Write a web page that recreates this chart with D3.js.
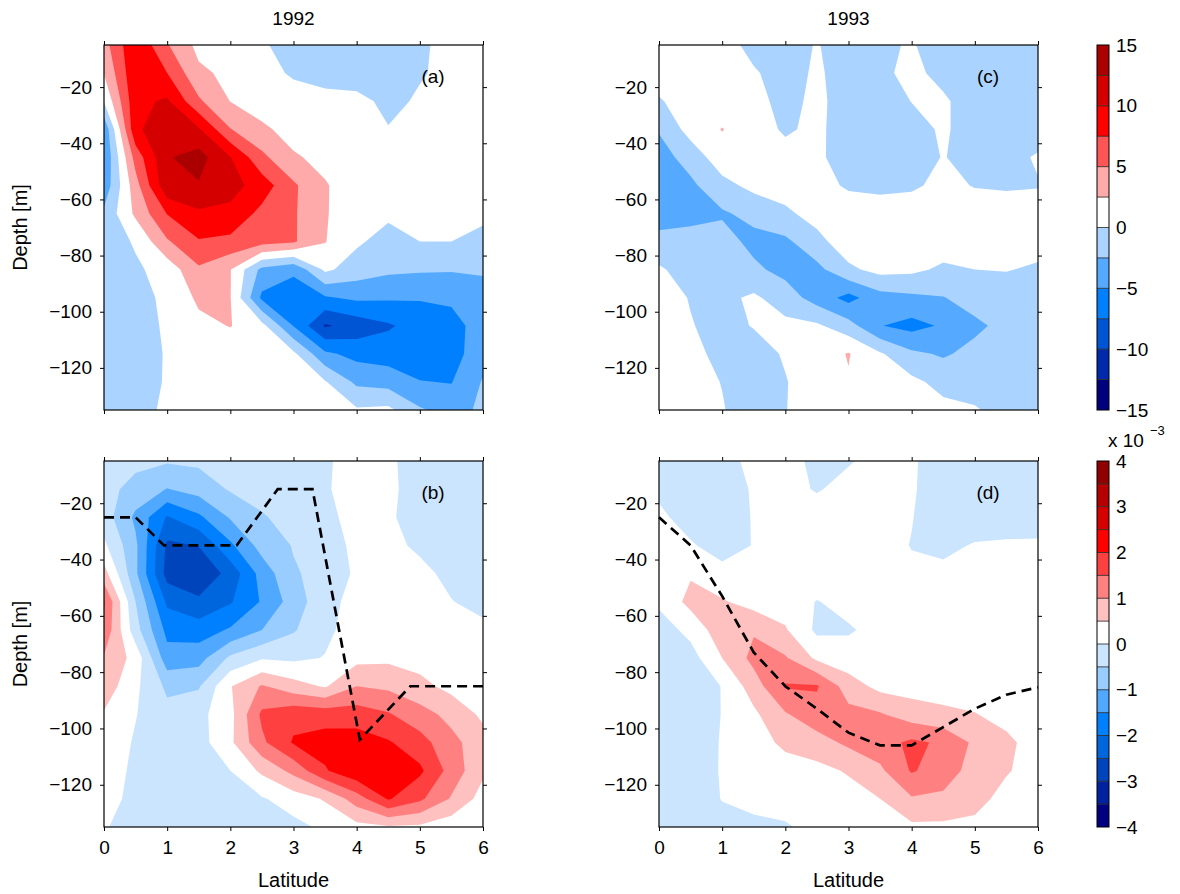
<!DOCTYPE html>
<html><head><meta charset="utf-8">
<script src="https://cdn.jsdelivr.net/npm/d3@7"></script>
<style>body{margin:0;background:#fff;} text{font-family:"Liberation Sans",Arial,sans-serif;}</style>
</head><body><svg id="chart" width="1180" height="894"></svg>
<script>
// ---------- data ----------
const latitudes = [0,0.5,1,1.5,2,2.5,3,3.5,4,4.5,5,5.5,6];
const depths = [-5,-15,-25,-35,-45,-55,-65,-75,-85,-95,-105,-115,-125,-135];

// (a) 1992, top variable
const panelA = [
 [4.0, 9.8, 5.2, 1.8, 1.0, 0.3, -1.0, -1.2, -1.2, -1.0, -0.4, 0.8, 1.0],
 [2.6, 9.6, 7.5, 3.0, 1.9, 0.8, -0.3, -1.2, -1.3, -1.5, -0.2, 0.6, 1.0],
 [0.2, 9.3, 10.4, 5.4, 2.45, 1.2, 1.0, 1.0, 0.7, -0.6, 0.3, 0.8, 1.0],
 [-4.5, 9.5, 11.8, 10.3, 5.1, 3.0, 1.5, 1.2, 0.8, 0.1, 0.5, 0.9, 1.0],
 [-4.9, 6.0, 12.3, 13.5, 10.1, 5.6, 2.8, 1.8, 1.2, 1.0, 1.0, 1.0, 1.0],
 [-4.2, 4.0, 12.0, 12.3, 11.0, 8.8, 5.4, 2.7, 1.2, 1.0, 1.0, 0.8, 0.6],
 [-2.0, 3.0, 7.6, 9.6, 9.3, 6.8, 5.3, 2.7, 1.0, 0.5, 0.7, 0.6, 0.3],
 [-1.5, 0.3, 4.7, 7.3, 6.9, 6.0, 5.3, 2.6, 0.4, -1.0, 0.0, 0.0, -0.4],
 [-1.3, -0.4, 1.0, 4.6, 2.6, -3.2, -4.5, 0.5, -1.2, -2.0, -2.2, -2.3, -2.2],
 [-1.0, -0.5, 0.3, 3.0, 2.6, -5.5, -6.5, -5.3, -4.5, -4.7, -4.8, -4.6, -3.5],
 [-0.8, -0.6, 0.2, 1.8, 2.6, 0.8, -5.1, -10.3, -9.0, -7.8, -6.5, -5.8, -4.0],
 [-0.9, -0.6, 0.1, 0.8, 1.0, 1.0, 0.5, -4.5, -5.8, -6.2, -6.5, -6.0, -3.5],
 [-1.0, -0.5, 0.1, 0.6, 0.8, 0.8, 0.6, 0.2, -3.0, -3.5, -4.9, -5.1, -2.3],
 [-1.0, -0.4, 0.2, 0.5, 0.6, 0.6, 0.5, 0.4, 0.3, 0.6, -2.2, -3.5, -2.0]
];
// (c) 1993, top variable
const panelC = [
 [1.0, 1.0, 0.8, -0.6, -0.7, 0.1, -0.8, -0.2, 0.1, -0.6, -0.9, -0.9, -0.8],
 [1.0, 1.2, 1.0, 0.2, -0.8, 0.3, -0.9, -0.4, 0.5, -0.6, -1.0, -1.0, -0.8],
 [-0.2, 1.0, 1.0, 0.8, -0.8, 0.6, -1.2, -1.2, 0.05, 0.3, -1.0, -1.2, -1.0],
 [-2.3, 1.0, 2.6, 1.0, -0.3, 0.5, -1.2, -1.3, -0.8, 0.3, -1.0, -1.2, -0.9],
 [-3.5, -1.5, 1.5, 1.5, 0.8, 0.4, -1.0, -1.5, -1.0, 0.1, -0.8, -0.6, 0.2],
 [-4.0, -3.0, -0.8, 0.7, 1.2, 0.8, -0.3, -0.5, -0.3, 0.5, -0.1, -0.2, -0.1],
 [-4.0, -3.5, -2.8, -1.8, -0.5, 1.0, 1.2, 1.0, 1.0, 1.2, 1.0, 0.8, 0.8],
 [-1.5, -1.3, -1.5, -3.2, -3.0, -0.8, 1.5, 1.5, 1.5, 1.2, 1.2, 1.0, 0.8],
 [0.3, -1.0, -1.4, -2.0, -3.3, -3.2, -0.5, 0.8, 0.5, -0.4, 0.0, 0.1, -0.3],
 [0.8, -0.1, -0.6, 0.4, -1.2, -3.6, -5.8, -3.5, -3.0, -2.6, -1.5, -1.2, -1.0],
 [0.8, 0.1, -0.6, 0.1, 0.6, 0.4, -1.5, -4.9, -5.8, -4.7, -3.0, -1.8, -1.2],
 [0.8, 0.5, -0.5, -0.8, 0.2, 1.2, 2.65, 0.3, -2.0, -2.8, -1.8, -1.2, -1.0],
 [0.8, 0.6, -0.05, -0.8, -0.1, 1.0, 2.3, 1.2, 0.6, -0.8, -1.0, -1.2, -1.0],
 [0.8, 0.6, 0.1, -0.8, -0.05, 0.8, 1.0, 1.0, 1.0, 0.7, 0.2, -0.8, -0.8]
];
// (b) 1992, bottom variable (x 10^-3)
const panelB = [
 [-0.2, -0.35, -0.45, -0.4, -0.3, -0.2, -0.15, -0.05, 0.15, 0.06, -0.15, -0.2, -0.2],
 [-0.3, -0.7, -1.02, -0.8, -0.45, -0.3, -0.2, -0.05, 0.2, 0.1, -0.2, -0.3, -0.2],
 [-0.25, -1.1, -2.05, -1.6, -0.95, -0.55, -0.3, -0.15, 0.2, 0.1, -0.3, -0.35, -0.3],
 [0.1, -0.9, -2.6, -2.48, -1.6, -0.8, -0.47, -0.2, 0.1, 0.15, -0.1, -0.3, -0.3],
 [0.7, -0.9, -2.7, -2.9, -2.33, -1.3, -0.55, -0.34, 0.085, 0.2, 0.15, -0.15, -0.25],
 [1.55, -0.5, -2.1, -2.4, -2.05, -1.45, -0.77, -0.15, 0.15, 0.2, 0.15, 0.02, -0.2],
 [1.4, -0.3, -1.65, -1.75, -1.44, -1.0, -0.55, -0.1, 0.2, 0.2, 0.2, 0.2, 0.15],
 [0.95, 0.325, -1.3, -1.2, -0.4, -0.05, -0.1, 0.02, 0.35, 0.4, 0.3, 0.2, 0.15],
 [0.8, 0.1, -0.6, -0.55, 0.47, 1.05, 0.7, 0.45, 1.0, 0.9, 0.65, 0.35, 0.2],
 [0.45, 0.02, -0.35, -0.15, 0.35, 1.6, 1.85, 1.8, 1.75, 1.55, 1.2, 0.85, 0.4],
 [0.3, -0.05, -0.35, -0.2, 0.4, 1.4, 2.05, 2.2, 2.25, 2.05, 1.7, 1.15, 0.7],
 [0.25, -0.1, -0.3, -0.3, 0.0, 0.6, 1.15, 1.95, 2.4, 2.35, 2.1, 1.3, 0.59],
 [0.2, -0.15, -0.25, -0.3, -0.25, -0.05, 0.25, 0.55, 1.25, 2.05, 1.6, 0.95, 0.3],
 [0.05, -0.25, -0.3, -0.35, -0.35, -0.3, -0.15, 0.1, 0.35, 0.45, 0.4, 0.2, 0.05]
];
// (d) 1993, bottom variable (x 10^-3)
const panelD = [
 [-0.25, -0.3, -0.2, 0.15, 0.15, -0.1, -0.05, 0.2, 0.05, -0.2, -0.3, -0.25, -0.2],
 [-0.1, -0.3, -0.25, 0.05, 0.2, -0.05, 0.2, 0.25, 0.05, -0.25, -0.35, -0.3, -0.3],
 [0.1, -0.2, -0.25, 0.03, 0.2, 0.3, 0.25, 0.2, 0.02, -0.3, -0.35, -0.35, -0.3],
 [0.2, 0.05, -0.2, 0.02, 0.2, 0.25, 0.2, 0.2, -0.02, -0.15, 0.05, 0.1, 0.1],
 [0.2, 0.45, 0.15, 0.2, 0.25, 0.3, 0.2, 0.2, 0.1, 0.15, 0.2, 0.2, 0.2],
 [0.1, 0.65, 0.55, 0.3, 0.25, -0.02, 0.15, 0.2, 0.2, 0.2, 0.2, 0.2, 0.2],
 [-0.25, 0.15, 0.8, 0.95, 0.55, -0.1, -0.05, 0.15, 0.2, 0.25, 0.2, 0.2, 0.2],
 [-0.4, -0.2, 0.5, 1.15, 1.05, 0.4, 0.2, 0.2, 0.25, 0.3, 0.25, 0.2, 0.2],
 [-0.45, -0.35, 0.02, 0.75, 1.55, 1.55, 0.75, 0.35, 0.3, 0.3, 0.25, 0.2, 0.2],
 [-0.5, -0.4, 0.02, 0.4, 0.95, 1.3, 1.15, 1.05, 0.75, 0.6, 0.52, 0.35, 0.25],
 [-0.5, -0.4, 0.05, 0.3, 0.6, 0.8, 1.1, 1.3, 1.6, 1.42, 0.9, 0.6, 0.3],
 [-0.45, -0.35, 0.05, 0.2, 0.3, 0.35, 0.55, 0.9, 1.55, 1.25, 0.8, 0.55, 0.25],
 [-0.4, -0.3, 0.02, 0.15, 0.2, 0.25, 0.3, 0.5, 0.95, 0.9, 0.7, 0.3, 0.15],
 [-0.35, -0.3, -0.2, -0.12, -0.05, 0.15, 0.25, 0.3, 0.4, 0.4, 0.35, 0.25, 0.2]
];

// dashed lines (b) and (d)
const mldLatB = [0, 0.5, 0.95, 2.1, 2.75, 3.3, 4.05, 4.85, 6];
const mldDepthB = [-25, -25, -35, -35, -15, -15, -104, -85, -85];
const mldLatD = [0, 0.5, 1, 1.5, 2, 2.5, 3, 3.5, 4, 4.5, 5, 5.5, 6];
const mldDepthD = [-25, -35, -53, -73, -85, -93, -101.5, -106, -106, -99.5, -93, -88, -85.4];

// contour levels and colours
const levelsTop = [-15,-12.5,-10,-7.5,-5,-2.5,0,2.5,5,7.5,10,12.5,15];
const colorsTop = ["#00007f","#002aaa","#0055d4","#0080ff","#55aaff","#aad4ff","#ffffff","#ffaaaa","#ff5555","#ff0000","#d40000","#aa0000"];
const levelsBottom = [-4,-3.5,-3,-2.5,-2,-1.5,-1,-0.5,0,0.5,1,1.5,2,2.5,3,3.5,4];
const colorsBottom = ["#000080","#0022a0","#0044bb","#0066dd","#0080ff","#50a8ff","#99ccff","#cce5ff","#ffffff","#ffc0c0","#ff8080","#ff4040","#ff0000","#d50000","#b40000","#910000"];

const yTicks = [-20,-40,-60,-80,-100,-120];
const xTicks = [0,1,2,3,4,5,6];
const cbTicksTop = [15,10,5,0,-5,-10,-15];
const cbTicksBottom = [4,3,2,1,0,-1,-2,-3,-4];
const yearTitles = ["1992","1993"];

// ---------- drawing ----------
const svg = d3.select("#chart");
svg.append("rect").attr("width",1180).attr("height",894).attr("fill","#fff");
const FS = 19, FL = 20;
const FONT = '"Liberation Sans",Arial,sans-serif';
const fmt = v => (v < 0 ? "\u2212" + Math.abs(v) : String(v));

const panels = [
  {data: panelA, levels: levelsTop, colors: colorsTop, xr:[104,483], yr:[45,410], label:"(a)", xLab:false, yLab:true, mld:null},
  {data: panelC, levels: levelsTop, colors: colorsTop, xr:[659,1038], yr:[45,410], label:"(c)", xLab:false, yLab:false, mld:null},
  {data: panelB, levels: levelsBottom, colors: colorsBottom, xr:[104,483], yr:[461,827], label:"(b)", xLab:true, yLab:true, mld:[mldLatB, mldDepthB]},
  {data: panelD, levels: levelsBottom, colors: colorsBottom, xr:[659,1038], yr:[461,827], label:"(d)", xLab:true, yLab:false, mld:[mldLatD, mldDepthD]}
];

panels.forEach((p, k) => {
  const x = d3.scaleLinear().domain([0,6]).range(p.xr);
  const y = d3.scaleLinear().domain([-5,-135]).range(p.yr);
  const g = svg.append("g");
  const cid = "clip" + k;
  svg.append("clipPath").attr("id", cid).append("rect")
     .attr("x", p.xr[0]).attr("y", p.yr[0]).attr("width", p.xr[1]-p.xr[0]).attr("height", p.yr[1]-p.yr[0]);

  const nx = latitudes.length, ny = depths.length;
  const values = p.data.flat();
  const dLat = latitudes[1]-latitudes[0], dDep = depths[1]-depths[0];
  const contours = d3.contours().size([nx, ny]).smooth(true)
      .thresholds(p.levels.slice(0,-1))(values);
  const proj = d3.geoTransform({point: function(px, py){
      this.stream.point(x(latitudes[0] + (px-0.5)*dLat), y(depths[0] + (py-0.5)*dDep)); }});
  const path = d3.geoPath(proj);
  const cg = g.append("g").attr("clip-path", `url(#${cid})`);
  cg.selectAll("path").data(contours).join("path")
    .attr("d", path)
    .attr("fill", d => p.colors[p.levels.indexOf(d.value)])
    .attr("fill-rule", "evenodd");

  if (p.mld) {
    const line = d3.line().x((d,i) => x(p.mld[0][i])).y(d => y(d));
    g.append("path").datum(p.mld[1]).attr("d", line)
     .attr("fill","none").attr("stroke","#000").attr("stroke-width",2.7)
     .attr("stroke-dasharray","10,6");
  }

  // axes
  const styleAxis = a => { a.attr("font-size", FS).attr("font-family", FONT);
                           a.select(".domain").remove(); a.selectAll("line").attr("stroke","#000"); a.selectAll("text").attr("fill","#000"); };
  const ax1 = g.append("g").attr("transform", `translate(${p.xr[0]},0)`)
     .call(d3.axisLeft(y).tickValues(yTicks).tickSize(4).tickSizeOuter(0).tickPadding(8).tickFormat(fmt));
  styleAxis(ax1);
  const ax2 = g.append("g").attr("transform", `translate(${p.xr[1]},0)`)
     .call(d3.axisRight(y).tickValues(yTicks).tickSize(4).tickSizeOuter(0).tickFormat(""));
  styleAxis(ax2);
  const ax3 = g.append("g").attr("transform", `translate(0,${p.yr[1]})`)
     .call(d3.axisBottom(x).tickValues(xTicks).tickSize(4).tickSizeOuter(0).tickPadding(10).tickFormat(p.xLab ? fmt : ""));
  styleAxis(ax3);
  const ax4 = g.append("g").attr("transform", `translate(0,${p.yr[0]})`)
     .call(d3.axisTop(x).tickValues(xTicks).tickSize(4).tickSizeOuter(0).tickFormat(""));
  styleAxis(ax4);

  g.append("rect").attr("x", p.xr[0]).attr("y", p.yr[0])
   .attr("width", p.xr[1]-p.xr[0]).attr("height", p.yr[1]-p.yr[0])
   .attr("fill","none").attr("stroke","#000").attr("stroke-width",1.2);

  g.append("text").attr("x", p.xr[0]+329).attr("y", p.yr[0]+31)
   .attr("text-anchor","middle").attr("dominant-baseline","central").attr("font-size", FS).text(p.label);

  if (p.xLab) g.append("text").attr("x", (p.xr[0]+p.xr[1])/2).attr("y", 887)
     .attr("text-anchor","middle").attr("font-size", FL).text("Latitude");
  if (p.yLab) g.append("text").attr("transform", `translate(27,${(p.yr[0]+p.yr[1])/2}) rotate(-90)`)
     .attr("text-anchor","middle").attr("font-size", FL).text("Depth [m]");
});

// year titles
yearTitles.forEach((t,i) => {
  svg.append("text").attr("x", i===0 ? 293.5 : 848.5).attr("y", 25)
     .attr("text-anchor","middle").attr("font-size", FS).text(t);
});

// colorbars
function colorbar(levels, colors, ticks, y0, y1) {
  const cx0 = 1097, cx1 = 1109;
  const s = d3.scaleLinear().domain([levels[0], levels[levels.length-1]]).range([y1, y0]);
  const g = svg.append("g");
  g.selectAll("rect.band").data(colors).join("rect").attr("class","band")
    .attr("x", cx0).attr("width", cx1-cx0)
    .attr("y", (c,i) => s(levels[i+1])).attr("height", (c,i) => s(levels[i]) - s(levels[i+1]))
    .attr("fill", c => c);
  g.selectAll("line.sep").data(levels.slice(1,-1)).join("line").attr("class","sep")
    .attr("x1", cx0).attr("x2", cx1).attr("y1", d => s(d)).attr("y2", d => s(d))
    .attr("stroke","#222").attr("stroke-width",0.8);
  g.append("rect").attr("x", cx0).attr("y", y0).attr("width", cx1-cx0).attr("height", y1-y0)
    .attr("fill","none").attr("stroke","#000").attr("stroke-width",1);
  g.selectAll("text").data(ticks).join("text")
    .attr("x", 1116).attr("y", d => s(d)).attr("dominant-baseline","central")
    .attr("font-size", FS).text(fmt);
}
colorbar(levelsTop, colorsTop, cbTicksTop, 45, 410);
colorbar(levelsBottom, colorsBottom, cbTicksBottom, 461, 827);
svg.append("text").attr("x",1108).attr("y",447).attr("font-size",FS).text("x 10");
svg.append("text").attr("x",1150).attr("y",435).attr("font-size",13).text("\u22123");
</script></body></html>
